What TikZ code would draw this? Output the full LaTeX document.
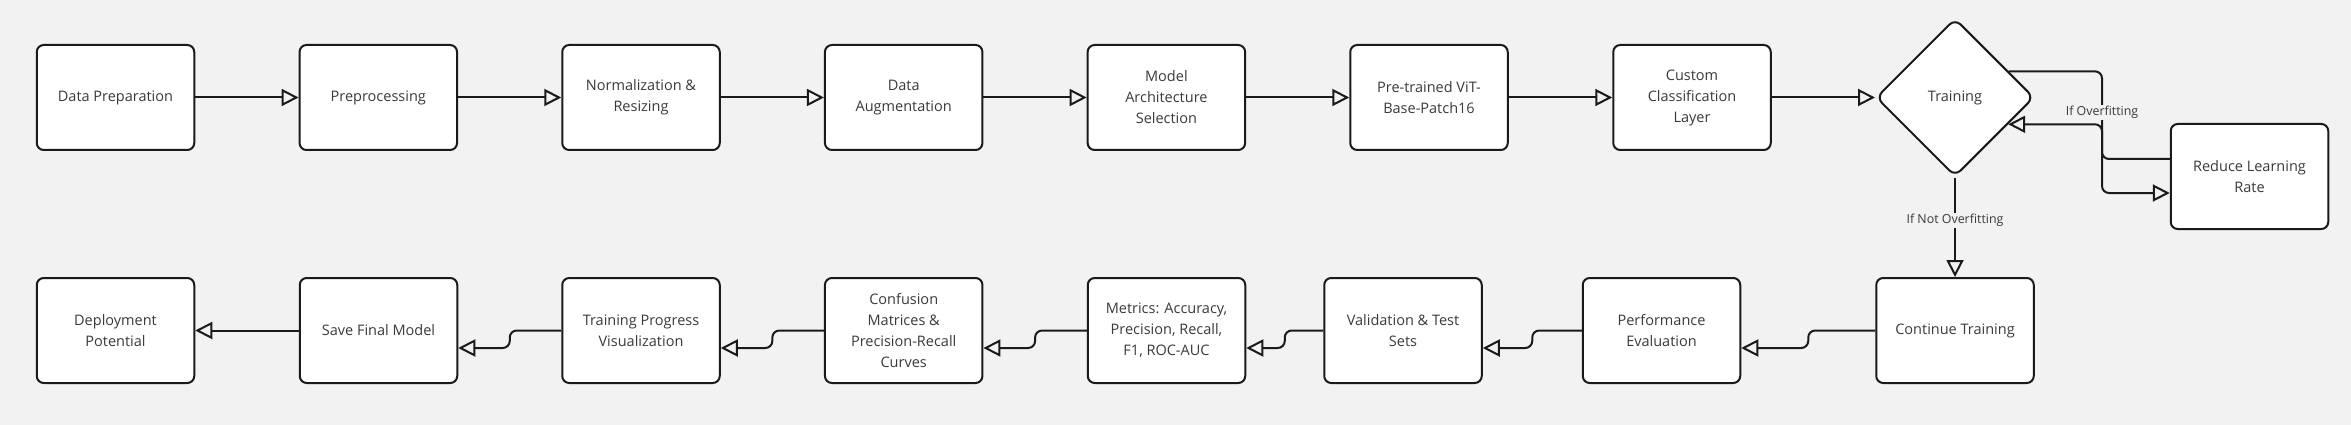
\documentclass[tikz,border=0pt]{standalone}
\usepackage{fontspec}
\setmainfont{Open Sans}
\usetikzlibrary{arrows.meta,shapes.geometric,calc}
\definecolor{bg}{HTML}{F2F2F2}
\definecolor{ink}{HTML}{1A1A1A}
\definecolor{txt}{HTML}{3A3A3A}
\begin{document}
\begin{tikzpicture}[x=1pt,y=-1pt,
  box/.style={draw=ink, line width=2pt, fill=white, rounded corners=7pt,
    minimum width=157.5pt, minimum height=105pt, align=center,
    font=\fontsize{14.5}{21}\selectfont, text=txt, inner sep=2pt},
  dec/.style={diamond, draw=ink, line width=2pt, fill=white, rounded corners=8pt,
    minimum width=158pt, minimum height=158pt, inner sep=0pt,
    font=\fontsize{14.5}{21}\selectfont, text=txt},
  conn/.style={draw=ink, line width=2pt, rounded corners=7pt,
    -{Triangle[open,length=17pt,width=17pt]}},
  lbl/.style={fill=bg, font=\fontsize{12.4}{15}\selectfont, text=txt, inner sep=1pt}]
\fill[bg] (0,0) rectangle (2351,425);
\useasboundingbox (0,0) rectangle (2351,425);

% row 1
\node[box] (prep)  at (115.5,97.5) {Data Preparation};
\node[box] (pre)   at (378.3,97.5) {Preprocessing};
\node[box] (norm)  at (641,97.5)   {Normalization \&\\Resizing};
\node[box] (aug)   at (903.7,97.5) {Data\\Augmentation};
\node[box] (arch)  at (1166.4,97.5) {Model\\Architecture\\Selection};
\node[box] (vit)   at (1429,97.5)  {Pre-trained ViT-\\Base-Patch16};
\node[box] (cust)  at (1692,97.5)  {Custom\\Classification\\Layer};
\node[dec] (train) at (1955,97.5)  {Training};
\node[box] (lr)    at (2249.5,176.5) {Reduce Learning\\Rate};

% row 2
\node[box] (cont)    at (1955,330.5)   {Continue Training};
\node[box] (perf)    at (1661.5,330.5) {Performance\\Evaluation};
\node[box] (valid)   at (1403,330.5)   {Validation \& Test\\Sets};
\node[box] (metrics) at (1166.5,330.5) {Metrics: Accuracy,\\Precision, Recall,\\F1, ROC-AUC};
\node[box] (conf)    at (903.7,330.5)  {Confusion\\Matrices \&\\Precision-Recall\\Curves};
\node[box] (prog)    at (641,330.5)    {Training Progress\\Visualization};
\node[box] (save)    at (378.5,330.5)  {Save Final Model};
\node[box] (deploy)  at (115.5,330.5)  {Deployment\\Potential};

% row 1 connectors
\foreach \a/\b in {prep/pre, pre/norm, norm/aug, aug/arch, arch/vit, vit/cust, cust/train}
  \draw[conn] (\a.east) -- (\b.west);

% overfitting loop
\coordinate (t1) at ($(train.east)!0.327!(train.north)$);
\coordinate (t2) at ($(train.east)!0.335!(train.south)$);
\coordinate (jx) at (2102,0);
\coordinate (lrin)  at ($(lr.west)+(0,16.5)$);
\coordinate (lrout) at ($(lr.west)+(0,-17.5)$);
\draw[conn] (t1) -- (t1 -| jx) -- (jx |- lrin) -- (lrin);
\draw[conn] (lrout) -- (lrout -| jx) -- (jx |- t2) -- (t2);
\node[lbl] (lo) at (2102,112.7) {If Overfitting};

% not overfitting
\draw[conn] (train.south) -- (cont.north);
\node[lbl] (lno) at (1955,220.7) {If Not Overfitting};

% row 2 connectors
\foreach \a/\b in {cont/perf, perf/valid, valid/metrics, metrics/conf, conf/prog, prog/save} {
  \coordinate (in-\b) at ($(\b.east)+(0,17.5)$);
  \coordinate (m-\b) at ($(\a.west)!0.5!(\b.east)$);
  \draw[conn] (\a.west) -- (m-\b) -- (m-\b |- in-\b) -- (in-\b);
}
\draw[conn] (save.west) -- (deploy.east);
\end{tikzpicture}
\end{document}
